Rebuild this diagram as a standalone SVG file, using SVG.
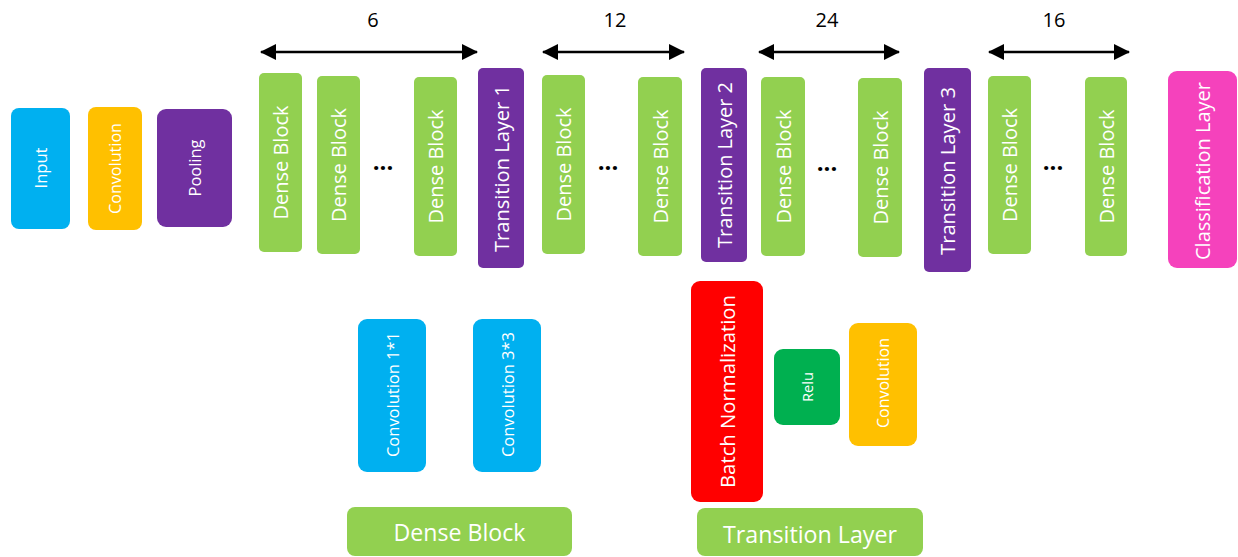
<svg xmlns="http://www.w3.org/2000/svg" width="1238" height="557" viewBox="0 0 1238 557">
  <defs>
    <marker id="ah" viewBox="0 0 16 16" refX="15" refY="8" markerWidth="16" markerHeight="16" markerUnits="userSpaceOnUse" orient="auto-start-reverse">
      <path d="M0,0 L16,8 L0,16 Z" fill="#000"/>
    </marker>
  </defs>
  <style>
    text { font-family: "Open Sans", "Liberation Sans", sans-serif; fill: #fff; }
    .v { text-anchor: middle; dominant-baseline: central; }
    .db { fill: #92D050; }
    .tl { fill: #7030A0; }
    .num { fill: #000; font-size: 20px; text-anchor: middle; dominant-baseline: central; }
    .dots { fill: #000; font-size: 24px; font-weight: bold; text-anchor: middle; }
    .f20 { font-size: 20px; }
    .f16 { font-size: 16px; }
    .conn line { stroke: #000; stroke-width: 2.5; marker-start: url(#ah); marker-end: url(#ah); }
  </style>

  <g id="input"><rect x="11" y="108" width="59" height="121" rx="8" fill="#00B0F0"/><text class="v f16" textLength="41" lengthAdjust="spacingAndGlyphs" transform="translate(40.5,168) rotate(-90)">Input</text></g>
  <g id="convolution"><rect x="88" y="107" width="54" height="123" rx="8" fill="#FFC000"/><text class="v f16" textLength="91" lengthAdjust="spacingAndGlyphs" transform="translate(115,168.5) rotate(-90)">Convolution</text></g>
  <g id="pooling"><rect x="157" y="109" width="75" height="118" rx="9" fill="#7030A0"/><text class="v f16" textLength="57" lengthAdjust="spacingAndGlyphs" transform="translate(194.5,168) rotate(-90)">Pooling</text></g>

  <g id="dense1"><rect class="db" x="259" y="73" width="43" height="179" rx="5"/><text class="v f20" textLength="114" lengthAdjust="spacingAndGlyphs" transform="translate(280.5,162.5) rotate(-90)">Dense Block</text></g>
  <g id="dense2"><rect class="db" x="317" y="76" width="43" height="178" rx="5"/><text class="v f20" textLength="114" lengthAdjust="spacingAndGlyphs" transform="translate(338.5,165) rotate(-90)">Dense Block</text></g>
  <g id="dots1"><text class="dots" x="383" y="170">...</text></g>
  <g id="dense3"><rect class="db" x="414" y="77" width="43" height="179" rx="5"/><text class="v f20" textLength="114" lengthAdjust="spacingAndGlyphs" transform="translate(435.5,166.5) rotate(-90)">Dense Block</text></g>
  <g id="transition1"><rect class="tl" x="478" y="68" width="46" height="200" rx="5"/><text class="v f20" textLength="167" lengthAdjust="spacingAndGlyphs" transform="translate(501,168.5) rotate(-90)">Transition Layer 1</text></g>

  <g id="dense4"><rect class="db" x="542" y="75" width="43" height="179" rx="5"/><text class="v f20" textLength="114" lengthAdjust="spacingAndGlyphs" transform="translate(563.5,164.5) rotate(-90)">Dense Block</text></g>
  <g id="dots2"><text class="dots" x="608" y="170">...</text></g>
  <g id="dense5"><rect class="db" x="638" y="77" width="44" height="179" rx="5"/><text class="v f20" textLength="114" lengthAdjust="spacingAndGlyphs" transform="translate(660,166.5) rotate(-90)">Dense Block</text></g>
  <g id="transition2"><rect class="tl" x="701" y="68" width="46" height="194" rx="5"/><text class="v f20" textLength="166" lengthAdjust="spacingAndGlyphs" transform="translate(724,165) rotate(-90)">Transition Layer 2</text></g>

  <g id="dense6"><rect class="db" x="761" y="77" width="44" height="179" rx="5"/><text class="v f20" textLength="114" lengthAdjust="spacingAndGlyphs" transform="translate(783,166.5) rotate(-90)">Dense Block</text></g>
  <g id="dots3"><text class="dots" x="827" y="171">...</text></g>
  <g id="dense7"><rect class="db" x="858" y="78" width="44" height="179" rx="5"/><text class="v f20" textLength="114" lengthAdjust="spacingAndGlyphs" transform="translate(880,167.5) rotate(-90)">Dense Block</text></g>
  <g id="transition3"><rect class="tl" x="924" y="68" width="47" height="204" rx="5"/><text class="v f20" textLength="168" lengthAdjust="spacingAndGlyphs" transform="translate(947.5,171) rotate(-90)">Transition Layer 3</text></g>

  <g id="dense8"><rect class="db" x="988" y="76" width="43" height="178" rx="5"/><text class="v f20" textLength="114" lengthAdjust="spacingAndGlyphs" transform="translate(1009.5,165) rotate(-90)">Dense Block</text></g>
  <g id="dots4"><text class="dots" x="1053" y="170">...</text></g>
  <g id="dense9"><rect class="db" x="1085" y="77" width="42" height="179" rx="5"/><text class="v f20" textLength="114" lengthAdjust="spacingAndGlyphs" transform="translate(1106,166.5) rotate(-90)">Dense Block</text></g>
  <g id="classification"><rect x="1168" y="71" width="69" height="197" rx="9" fill="#F542BC"/><text class="v f20" textLength="178" lengthAdjust="spacingAndGlyphs" transform="translate(1202.5,171) rotate(-90)">Classification Layer</text></g>

  <g id="labels">
    <text class="num" x="373" y="19">6</text>
    <text class="num" x="615" y="19">12</text>
    <text class="num" x="827" y="19">24</text>
    <text class="num" x="1054" y="19">16</text>
  </g>

  <g id="connectors" class="conn">
    <line x1="261" y1="52" x2="477" y2="52"/>
    <line x1="543" y1="52" x2="684" y2="52"/>
    <line x1="759" y1="52" x2="899" y2="52"/>
    <line x1="989" y1="52" x2="1129" y2="52"/>
  </g>

  <g id="conv1x1"><rect x="358" y="319" width="68" height="153" rx="9" fill="#00B0F0"/><text class="v" font-size="16.5" textLength="125" lengthAdjust="spacingAndGlyphs" transform="translate(392,394.5) rotate(-90)">Convolution 1*1</text></g>
  <g id="conv3x3"><rect x="473" y="319" width="68" height="153" rx="9" fill="#00B0F0"/><text class="v" font-size="16.5" textLength="125" lengthAdjust="spacingAndGlyphs" transform="translate(507,394.5) rotate(-90)">Convolution 3*3</text></g>
  <g id="dense-block-label"><rect x="347" y="507" width="225" height="49" rx="8" fill="#92D050"/><text x="459.5" y="541" font-size="23" text-anchor="middle" textLength="132" lengthAdjust="spacingAndGlyphs">Dense Block</text></g>

  <g id="batch-norm"><rect x="691" y="281" width="72" height="221" rx="9" fill="#FF0000"/><text class="v f20" textLength="193" lengthAdjust="spacingAndGlyphs" transform="translate(727,391.5) rotate(-90)">Batch Normalization</text></g>
  <g id="relu"><rect x="774" y="349" width="66" height="76" rx="9" fill="#00B050"/><text class="v" font-size="14" textLength="30" lengthAdjust="spacingAndGlyphs" transform="translate(807,387) rotate(-90)">Relu</text></g>
  <g id="tl-convolution"><rect x="849" y="323" width="68" height="123" rx="9" fill="#FFC000"/><text class="v f16" textLength="90" lengthAdjust="spacingAndGlyphs" transform="translate(883,383) rotate(-90)">Convolution</text></g>
  <g id="transition-layer-label"><rect x="697" y="508" width="226" height="48" rx="8" fill="#92D050"/><text x="810" y="543" font-size="23" text-anchor="middle" textLength="174" lengthAdjust="spacingAndGlyphs">Transition Layer</text></g>
</svg>
